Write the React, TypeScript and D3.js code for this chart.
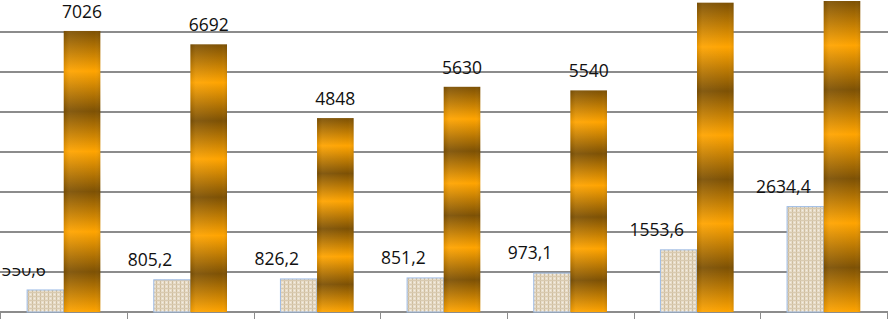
import React from "react";
import * as d3 from "d3";

const categories = ["1", "2", "3", "4", "5", "6", "7"];
const seriesNames = ["small", "large"];
const smallValues = [550.6, 805.2, 826.2, 851.2, 973.1, 1553.6, 2634.4];
const largeValues = [7026, 6692, 4848, 5630, 5540, 7733, 7775];
const smallLabels = ["550,6", "805,2", "826,2", "851,2", "973,1", "1553,6", "2634,4"];
const largeLabels = ["7026", "6692", "4848", "5630", "5540", "7733", "7775"];
const gridTicks = [1000, 2000, 3000, 4000, 5000, 6000, 7000];

const W = 888;
const H = 319;

export default function App() {
  const y = d3.scaleLinear().domain([0, 7800]).range([312, 0]);
  const x = d3.scaleBand<string>().domain(categories).range([0.4, 887]).paddingInner(0).paddingOuter(0);
  const x1 = d3.scaleBand<string>().domain(seriesNames).range([0, x.bandwidth()]).paddingInner(0).paddingOuter(0.73);
  const bw = x1.bandwidth();
  const stops = ["#7d5104", "#ffa400", "#7d5104", "#ffa400", "#7d5104", "#ffa400", "#7d5104", "#ffa400"];
  const font = "'Open Sans', 'Liberation Sans', sans-serif";

  return (
    <svg width={W} height={H} style={{ position: "absolute", left: 0, top: 0, background: "#fff" }}>
      <defs>
        <linearGradient id="gold" x1="0" y1="0" x2="0" y2="1">
          {stops.map((c, i) => (
            <stop key={i} offset={i / (stops.length - 1)} stopColor={c} />
          ))}
        </linearGradient>
        <linearGradient id="goldEdge" x1="0" y1="0" x2="1" y2="0">
          <stop offset="0" stopColor="#000" stopOpacity="0.08" />
          <stop offset="0.15" stopColor="#fff" stopOpacity="0.06" />
          <stop offset="0.85" stopColor="#fff" stopOpacity="0" />
          <stop offset="1" stopColor="#000" stopOpacity="0.08" />
        </linearGradient>
        <pattern id="canvas" patternUnits="userSpaceOnUse" width="4" height="4">
          <rect width="4" height="4" fill="#e8ddca" />
          <rect x="0" y="0" width="1" height="4" fill="#cfbe9f" />
          <rect x="0" y="0" width="4" height="1" fill="#d9cab0" />
          <rect x="2" y="2" width="1" height="1" fill="#f4eee3" />
        </pattern>
      </defs>

      {gridTicks.map((t) => (
        <line key={t} x1={0} x2={W} y1={y(t)} y2={y(t)} stroke="#8c8c8c" strokeWidth={2} />
      ))}
      <line x1={0} x2={W} y1={y(0)} y2={y(0)} stroke="#8c8c8c" strokeWidth={2} />
      {[...categories.map((c) => x(c)!), 887].map((px, i) => (
        <line key={i} x1={Math.round(px) + 0.5} x2={Math.round(px) + 0.5} y1={y(0)} y2={H} stroke="#8c8c8c" strokeWidth={1} />
      ))}

      {categories.map((c, i) => {
        const gx = x(c)!;
        const sx = gx + x1("small")!;
        const lx = gx + x1("large")!;
        return (
          <g key={c}>
            <rect x={sx} y={y(smallValues[i])} width={bw} height={y(0) - y(smallValues[i])} fill="url(#canvas)" stroke="#9cbbe6" strokeWidth={1} />
            <rect x={lx} y={y(largeValues[i])} width={bw} height={y(0) - y(largeValues[i])} fill="url(#gold)" />
            <rect x={lx} y={y(largeValues[i])} width={bw} height={y(0) - y(largeValues[i])} fill="url(#goldEdge)" />
          </g>
        );
      })}

      {categories.map((c, i) => {
        const gx = x(c)!;
        const sx = gx + x1("small")! + bw / 2;
        const lx = gx + x1("large")! + bw / 2;
        const ly = y(largeValues[i]) - 20;
        return (
          <g key={"l" + c} fontFamily={font} fontSize={17.5} fill="#111">
            <text x={sx - 22} y={y(smallValues[i]) - 21} textAnchor="middle" dominantBaseline="central">
              {smallLabels[i]}
            </text>
            {ly > 0 && (
              <text x={lx} y={ly} textAnchor="middle" dominantBaseline="central">
                {largeLabels[i]}
              </text>
            )}
          </g>
        );
      })}
      <rect x={0} y={248} width={62} height={20} fill="#fff" />
    </svg>
  );
}
